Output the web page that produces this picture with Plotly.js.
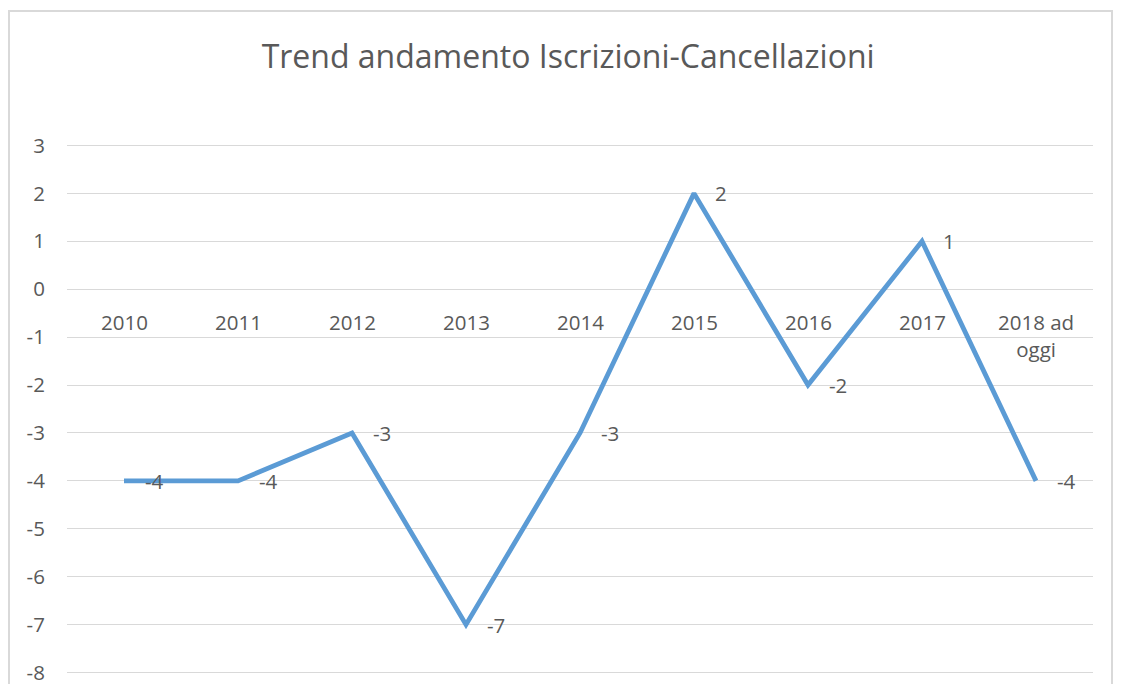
<!DOCTYPE html>
<html>
<head>
<meta charset="utf-8">
<script src="https://cdn.plot.ly/plotly-3.0.1.min.js"></script>
<style>
  html, body { margin: 0; padding: 0; background: #ffffff; }
  #frame { position: absolute; left: 8px; top: 10px; width: 1105px; height: 700px; border: 2px solid #d9d9d9; box-sizing: border-box; }
  #chart { position: absolute; left: 0; top: 0; width: 1125px; height: 684px; }
</style>
</head>
<body>
<div id="frame"></div>
<div id="chart"></div>
<script>
const categories = ["2010", "2011", "2012", "2013", "2014", "2015", "2016", "2017", "2018 ad<br>oggi"];
const values = [-4, -4, -3, -7, -3, 2, -2, 1, -4];
const yTicks = [3, 2, 1, 0, -1, -2, -3, -4, -5, -6, -7, -8];
const chartTitle = "Trend andamento Iscrizioni-Cancellazioni";

const textColor = "#595959";
const fontFamily = "'Open Sans', 'Noto Sans', sans-serif";
const xIdx = categories.map((c, i) => i);

const trace = {
  x: xIdx,
  y: values,
  type: "scatter",
  mode: "lines",
  line: { color: "#5B9BD5", width: 4.8 },
  hoverinfo: "none"
};

const annotations = [];
categories.forEach((c, i) => {
  annotations.push({
    x: i, y: 0, xref: "x", yref: "y",
    text: c, showarrow: false,
    xanchor: "center", yanchor: "top", yshift: -17,
    font: { family: fontFamily, size: 20.5, color: textColor },
    align: "center"
  });
  annotations.push({
    x: i, y: values[i], xref: "x", yref: "y",
    text: String(values[i]), showarrow: false,
    xanchor: "left", yanchor: "middle", xshift: 19,
    font: { family: fontFamily, size: 20.5, color: textColor }
  });
});

const layout = {
  width: 1125, height: 684,
  margin: { l: 67, r: 32, t: 143.56, b: 9.56, pad: 0 },
  paper_bgcolor: "rgba(0,0,0,0)",
  plot_bgcolor: "rgba(0,0,0,0)",
  showlegend: false,
  title: {
    text: chartTitle,
    x: 0.505, xanchor: "center",
    y: 1 - 57 / 684, yanchor: "middle",
    font: { family: fontFamily, size: 32, color: textColor }
  },
  xaxis: {
    range: [-0.5, 8.5],
    showgrid: false, zeroline: false, showline: false,
    showticklabels: false, ticks: ""
  },
  yaxis: {
    range: [-8.03, 3.03],
    tickvals: yTicks,
    ticktext: yTicks.map(String),
    showgrid: true, gridcolor: "#d9d9d9", gridwidth: 1,
    zeroline: false, showline: false,
    ticks: "outside", ticklen: 17, tickcolor: "rgba(0,0,0,0)",
    ticklabeloverflow: "allow",
    tickfont: { family: fontFamily, size: 20.5, color: textColor }
  },
  annotations: annotations
};

Plotly.newPlot("chart", [trace], layout, { displayModeBar: false, staticPlot: true });
</script>
</body>
</html>
